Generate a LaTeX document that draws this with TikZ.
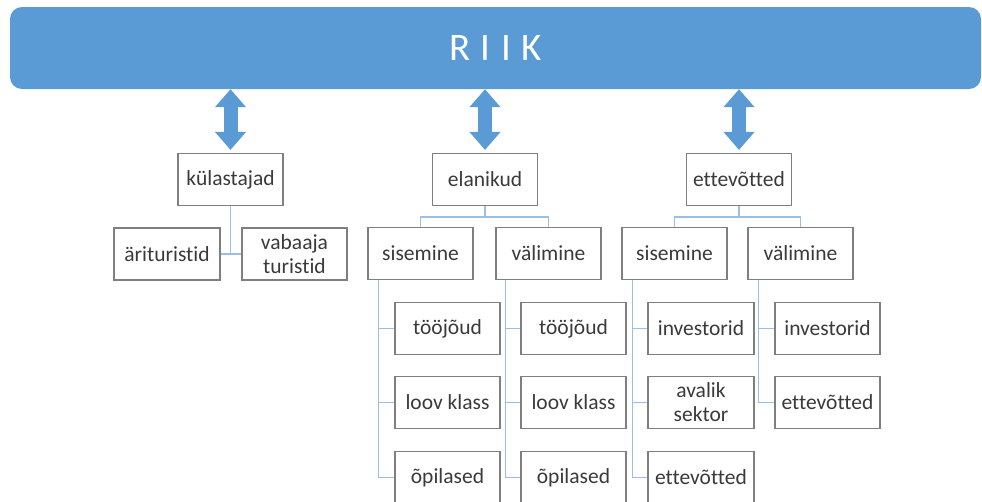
\documentclass[tikz,border=0pt]{standalone}
\usepackage{fontspec}
\setmainfont{Carlito}[Ligatures=NoCommon]
\usetikzlibrary{arrows.meta}
\definecolor{riikblue}{HTML}{5B9BD5}
\definecolor{linkblue}{HTML}{9BBFE4}
\definecolor{boxgray}{HTML}{7F7F7F}
\definecolor{textgray}{HTML}{3A3A3A}
\tikzset{
  unit/.style={draw=boxgray, line width=1.2pt, fill=white, text=textgray,
    minimum width=105pt, minimum height=52pt, inner sep=0pt, align=center,
    font=\fontsize{21.5}{24}\selectfont},
  link/.style={draw=linkblue, line width=1.3pt},
  bigarrow/.style={draw=riikblue, line width=14pt,
    {Triangle[width=30pt,length=18pt]}-{Triangle[width=30pt,length=18pt]},
    shorten >=3pt},
}
\begin{document}
\begin{tikzpicture}[x=1pt,y=-1pt]
\useasboundingbox (0,0) rectangle (982,501);

% top banner
\node[fill=riikblue, rounded corners=12pt, minimum width=971pt, minimum height=82pt,
      inner sep=0pt, text=white, font=\fontsize{39}{39}\selectfont]
  (riik) at (495.5,48) {R\hspace{10.5pt}I\hspace{10.5pt}I\hspace{10.5pt}K};

% first level
\node[unit] (kul) at (230.5,179.5) {külastajad};
\node[unit] (ela) at (485,179.5) {elanikud};
\node[unit] (ett) at (739,179.5) {ettevõtted};

% külastajad
\node[unit, minimum width=106pt] (ari) at (167,254) {ärituristid};
\node[unit] (vab) at (294.5,254) {vabaaja\\turistid};

% elanikud
\node[unit] (es) at (420.5,253.5) {sisemine};
\node[unit] (ev) at (548.5,253.5) {välimine};
\node[unit] (es1) at (447.5,328.5) {tööjõud};
\node[unit] (es2) at (447.5,402.5) {loov klass};
\node[unit] (es3) at (447.5,477.5) {õpilased};
\node[unit] (ev1) at (573.5,328.5) {tööjõud};
\node[unit] (ev2) at (573.5,402.5) {loov klass};
\node[unit] (ev3) at (573.5,477.5) {õpilased};

% ettevõtted
\node[unit] (ts) at (674.5,253.5) {sisemine};
\node[unit] (tv) at (800.5,253.5) {välimine};
\node[unit, minimum width=106pt] (ts1) at (701,328.5) {investorid};
\node[unit, minimum width=106pt] (ts2) at (701,402.5) {avalik\\sektor};
\node[unit, minimum width=106pt] (ts3) at (701,477.5) {ettevõtted};
\node[unit] (tv1) at (827.5,328.5) {investorid};
\node[unit] (tv2) at (827.5,402.5) {ettevõtted};

% links between the banner and the first level
\draw[bigarrow] (riik.south -| kul.north) -- (kul.north);
\draw[bigarrow] (riik.south -| ela.north) -- (ela.north);
\draw[bigarrow] (riik.south -| ett.north) -- (ett.north);

% külastajad branch
\draw[link] (kul.south) -- (kul.south |- ari.east);
\draw[link] (ari.east) -- (vab.west);

% elanikud branch
\coordinate (elaj) at ([yshift=-11pt]ela.south);
\draw[link] (ela.south) -- (elaj);
\draw[link] (es.north) |- (elaj) -| (ev.north);
\coordinate (esT) at ([xshift=11pt]es.south west);
\draw[link] (esT) |- (es3.west);
\draw[link] (es1.west) -- (es1.west -| esT);
\draw[link] (es2.west) -- (es2.west -| esT);
\coordinate (evT) at ([xshift=10pt]ev.south west);
\draw[link] (evT) |- (ev3.west);
\draw[link] (ev1.west) -- (ev1.west -| evT);
\draw[link] (ev2.west) -- (ev2.west -| evT);

% ettevõtted branch
\coordinate (ettj) at ([yshift=-11pt]ett.south);
\draw[link] (ett.south) -- (ettj);
\draw[link] (ts.north) |- (ettj) -| (tv.north);
\coordinate (tsT) at ([xshift=11pt]ts.south west);
\draw[link] (tsT) |- (ts3.west);
\draw[link] (ts1.west) -- (ts1.west -| tsT);
\draw[link] (ts2.west) -- (ts2.west -| tsT);
\coordinate (tvT) at ([xshift=11pt]tv.south west);
\draw[link] (tvT) |- (tv2.west);
\draw[link] (tv1.west) -- (tv1.west -| tvT);
\end{tikzpicture}
\end{document}
